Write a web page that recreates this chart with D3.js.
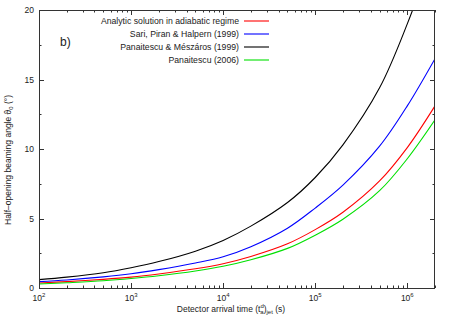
<!DOCTYPE html>
<html>
<head>
<meta charset="utf-8">
<script src="https://cdn.jsdelivr.net/npm/d3@7"></script>
<style>
  body { margin: 0; background: #fff; }
  text { font-family: "Liberation Sans", Arial, sans-serif; fill: #222; }
</style>
</head>
<body>
<svg id="chart"></svg>
<script>
const width = 450;
const height = 321;

// arrival times (s) where the curves were read
const times = [1e2, 2e2, 5e2, 1e3, 2e3, 5e3, 1e4, 2e4, 5e4, 1e5, 2e5, 5e5, 1e6, 2e6];

// half-opening angle (deg) per model
const adiabatic  = [0.36, 0.46, 0.62, 0.78, 1.01, 1.38, 1.75, 2.27, 3.18, 4.2, 5.45, 7.7, 10.1, 13.1];
const sariPiran  = [0.46, 0.58, 0.80, 1.02, 1.32, 1.80, 2.25, 2.97, 4.3, 5.75, 7.4, 10.2, 13.1, 16.5];
const panMesz    = [0.60, 0.78, 1.10, 1.46, 1.90, 2.65, 3.42, 4.45, 6.15, 7.95, 10.3, 14.4, 19.0, 24.5];
const pan2006    = [0.29, 0.38, 0.52, 0.68, 0.88, 1.22, 1.56, 2.03, 2.85, 3.8, 4.95, 7.0, 9.3, 12.1];

const seriesNames = [
  "Analytic solution in adiabatic regime",
  "Sari, Piran & Halpern (1999)",
  "Panaitescu & M\u00e9sz\u00e1ros (1999)",
  "Panaitescu (2006)"
];
const seriesColors = ["#ff0000", "#0000ff", "#000000", "#00e000"];
const seriesValues = [adiabatic, sariPiran, panMesz, pan2006];

const xTicks = [1e2, 1e3, 1e4, 1e5, 1e6];
const yTicks = [0, 5, 10, 15, 20];

const margin = { left: 39, right: 15, top: 10, bottom: 33 };

const svg = d3.select("#chart")
  .attr("width", width)
  .attr("height", height);

const x = d3.scaleLog()
  .domain([1e2, 2e6])
  .range([margin.left, width - margin.right]);

const y = d3.scaleLinear()
  .domain([0, 20])
  .range([height - margin.bottom, margin.top]);

const x0 = x.range()[0], x1 = x.range()[1];
const y0 = y.range()[0], y1 = y.range()[1];

svg.append("clipPath").attr("id", "clip")
  .append("rect")
  .attr("x", x0).attr("y", y1)
  .attr("width", x1 - x0).attr("height", y0 - y1);

// minor ticks
const xMinor = [];
for (let e = 2; e <= 6; e++) {
  for (let m = 2; m <= 9; m++) {
    const v = m * Math.pow(10, e);
    if (v <= 2e6) xMinor.push(v);
  }
}
const yMinor = [2.5, 7.5, 12.5, 17.5];

const ticks = svg.append("g").attr("stroke", "#333").attr("stroke-width", 1);

xTicks.forEach(v => {
  const px = Math.round(x(v)) + 0.5;
  ticks.append("line").attr("x1", px).attr("x2", px).attr("y1", y0).attr("y2", y0 - 5);
  ticks.append("line").attr("x1", px).attr("x2", px).attr("y1", y1).attr("y2", y1 + 5);
});
xMinor.forEach(v => {
  const px = Math.round(x(v)) + 0.5;
  ticks.append("line").attr("x1", px).attr("x2", px).attr("y1", y0).attr("y2", y0 - 2.5);
  ticks.append("line").attr("x1", px).attr("x2", px).attr("y1", y1).attr("y2", y1 + 2.5);
});
yTicks.forEach(v => {
  const py = Math.round(y(v)) + 0.5;
  ticks.append("line").attr("x1", x0).attr("x2", x0 + 5).attr("y1", py).attr("y2", py);
  ticks.append("line").attr("x1", x1).attr("x2", x1 - 5).attr("y1", py).attr("y2", py);
});
yMinor.forEach(v => {
  const py = Math.round(y(v)) + 0.5;
  ticks.append("line").attr("x1", x0).attr("x2", x0 + 2.5).attr("y1", py).attr("y2", py);
  ticks.append("line").attr("x1", x1).attr("x2", x1 - 2.5).attr("y1", py).attr("y2", py);
});

// curves
const line = d3.line()
  .x((d, i) => x(times[i]))
  .y(d => y(d))
  .curve(d3.curveCatmullRom.alpha(0.5));

const curves = svg.append("g").attr("clip-path", "url(#clip)");
seriesValues.forEach((vals, k) => {
  curves.append("path")
    .attr("d", line(vals))
    .attr("fill", "none")
    .attr("stroke", seriesColors[k])
    .attr("stroke-width", 1.1);
});

// frame
svg.append("rect")
  .attr("x", x0 + 0.5).attr("y", y1 + 0.5)
  .attr("width", x1 - x0 - 1).attr("height", y0 - y1)
  .attr("fill", "none")
  .attr("stroke", "#333")
  .attr("stroke-width", 1);

// y tick labels
svg.append("g").selectAll("text")
  .data(yTicks)
  .enter()
  .append("text")
  .attr("x", x0 - 5)
  .attr("y", d => y(d) + 3)
  .attr("text-anchor", "end")
  .attr("font-size", "8.5px")
  .text(d => d);

// x tick labels with exponents
xTicks.forEach(v => {
  const t = svg.append("text")
    .attr("x", x(v))
    .attr("y", y0 + 13)
    .attr("text-anchor", "middle")
    .attr("font-size", "8.5px");
  t.append("tspan").text("10");
  t.append("tspan").attr("dy", -4).attr("font-size", "6px").text(Math.round(Math.log10(v)));
});

// axis titles
const xt = svg.append("text")
  .attr("x", 231)
  .attr("y", 312)
  .attr("text-anchor", "middle")
  .attr("font-size", "8.5px");
xt.append("tspan").text("Detector arrival time (t");
xt.append("tspan").attr("font-size", "6px").attr("dy", -4).text("d");
xt.append("tspan").attr("font-size", "6px").attr("dx", -3.5).attr("dy", 6).text("a");
xt.append("tspan").attr("dy", -2).text(")");
xt.append("tspan").attr("font-size", "6px").attr("dy", 2).text("jet");
xt.append("tspan").attr("dy", -2).text(" (s)");

const yt = svg.append("text")
  .attr("transform", "translate(11, 160) rotate(-90)")
  .attr("text-anchor", "middle")
  .attr("font-size", "8.5px");
yt.append("tspan").text("Half\u2013opening beaming angle \u03d1");
yt.append("tspan").attr("font-size", "6px").attr("dy", 2).text("0");
yt.append("tspan").attr("dy", -2).text(" (\u00b0)");

// panel tag
svg.append("text")
  .attr("x", 60)
  .attr("y", 46)
  .attr("font-size", "12px")
  .text("b)");

// legend
const legend = svg.append("g");
seriesNames.forEach((name, k) => {
  const ly = 21 + k * 13;
  legend.append("text")
    .attr("x", 239)
    .attr("y", ly + 3)
    .attr("text-anchor", "end")
    .attr("font-size", "8.7px")
    .text(name);
  legend.append("line")
    .attr("x1", 244).attr("x2", 269)
    .attr("y1", ly).attr("y2", ly)
    .attr("stroke", seriesColors[k])
    .attr("stroke-width", 1.1);
});
</script>
</body>
</html>
